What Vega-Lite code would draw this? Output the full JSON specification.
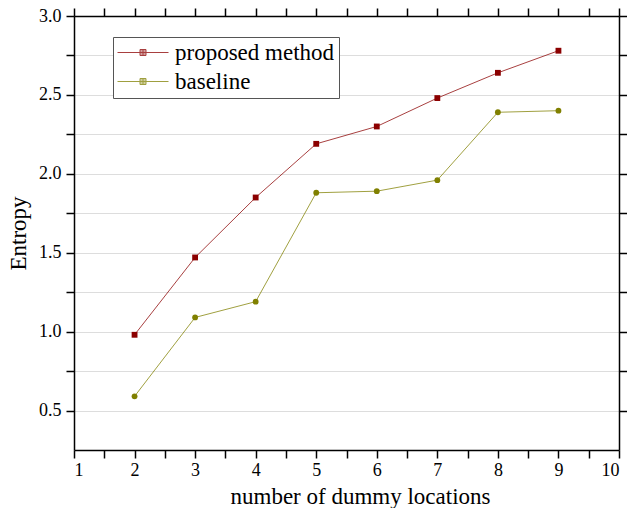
{
  "$schema": "https://vega.github.io/schema/vega-lite/v6.json",
  "width": 545,
  "height": 434,
  "autosize": {"type": "none"},
  "padding": {"left": 74, "top": 16, "right": 8, "bottom": 58},
  "background": "white",
  "config": {
    "font": "Liberation Serif",
    "view": {"stroke": null},
    "axis": {"labelFont": "Liberation Serif", "titleFont": "Liberation Serif", "labelColor": "#000", "titleColor": "#000", "titleFontWeight": "normal", "domainColor": "#000", "tickColor": "#000", "domainWidth": 1.5, "tickWidth": 1.5}
  },
  "data": {
    "values": [
      {"x": 2, "value": 0.98, "series": "proposed method"},
      {"x": 3, "value": 1.47, "series": "proposed method"},
      {"x": 4, "value": 1.85, "series": "proposed method"},
      {"x": 5, "value": 2.19, "series": "proposed method"},
      {"x": 6, "value": 2.30, "series": "proposed method"},
      {"x": 7, "value": 2.48, "series": "proposed method"},
      {"x": 8, "value": 2.64, "series": "proposed method"},
      {"x": 9, "value": 2.78, "series": "proposed method"},
      {"x": 2, "value": 0.59, "series": "baseline"},
      {"x": 3, "value": 1.09, "series": "baseline"},
      {"x": 4, "value": 1.19, "series": "baseline"},
      {"x": 5, "value": 1.88, "series": "baseline"},
      {"x": 6, "value": 1.89, "series": "baseline"},
      {"x": 7, "value": 1.96, "series": "baseline"},
      {"x": 8, "value": 2.39, "series": "baseline"},
      {"x": 9, "value": 2.40, "series": "baseline"}
    ]
  },
  "resolve": {"axis": {"x": "independent", "y": "independent"}},
  "layer": [
    {
      "mark": {"type": "line", "strokeWidth": 1, "opacity": 0.75},
      "encoding": {
        "x": {
          "field": "x", "type": "quantitative",
          "scale": {"domain": [1, 10], "nice": false, "zero": false},
          "axis": {
            "orient": "bottom",
            "values": [1, 1.5, 2, 2.5, 3, 3.5, 4, 4.5, 5, 5.5, 6, 6.5, 7, 7.5, 8, 8.5, 9, 9.5, 10],
            "labelExpr": "datum.value % 1 === 0 ? format(datum.value, 'd') : ''",
            "grid": false,
            "tickSize": 8,
            "labelFont": "Liberation Serif",
            "labelFontSize": 18,
            "labelPadding": 3,
            "title": "number of dummy locations",
            "titleFont": "Liberation Serif",
            "titleFontSize": 23,
            "titlePadding": 6,
            "titleX": 286,
            "encode": {
              "ticks": {"y2": {"condition": {"test": "datum.value % 1 === 0", "value": 8}, "value": 4}}
            }
          }
        },
        "y": {
          "field": "value", "type": "quantitative",
          "scale": {"domain": [0.25, 3.0], "nice": false, "zero": false},
          "axis": {
            "orient": "left",
            "values": [0.5, 0.75, 1.0, 1.25, 1.5, 1.75, 2.0, 2.25, 2.5, 2.75, 3.0],
            "labelExpr": "abs(datum.value * 2 - round(datum.value * 2)) < 0.001 ? format(datum.value, '.1f') : ''",
            "grid": true,
            "gridWidth": 1,
            "tickSize": 8,
            "labelFont": "Liberation Serif",
            "labelFontSize": 18,
            "labelPadding": 5,
            "title": "Entropy",
            "titleFont": "Liberation Serif",
            "titleFontSize": 23,
            "titlePadding": 8,
            "encode": {
              "ticks": {"x2": {"condition": {"test": "abs(datum.value * 2 - round(datum.value * 2)) < 0.001", "value": -8}, "value": -4}},
              "grid": {
                "stroke": {"condition": [{"test": "datum.value >= 2.99", "value": "transparent"}, {"test": "abs(datum.value * 2 - round(datum.value * 2)) < 0.001", "value": "#9a9a9a"}], "value": "#cccccc"},
                "strokeDash": {"condition": {"test": "abs(datum.value * 2 - round(datum.value * 2)) < 0.001", "value": [1, 0]}, "value": [2, 2]}
              }
            }
          }
        },
        "stroke": {
          "field": "series", "type": "nominal",
          "scale": {"domain": ["proposed method", "baseline"], "range": ["#8b0000", "#808000"]},
          "legend": {
            "orient": "none",
            "legendX": 39,
            "legendY": 21,
            "title": null,
            "strokeColor": "#555",
            "fillColor": "white",
            "padding": 4,
            "labelFont": "Liberation Serif",
            "labelFontSize": 23,
            "labelColor": "#000",
            "labelOffset": 35,
            "rowPadding": 5,
            "symbolSize": 100,
            "symbolStrokeWidth": 1,
            "symbolType": "M-2.2,0H8M2.3,-0.6H3.5M2.3,-0.3H3.5M2.3,0.3H3.5M2.3,0.6H3.5M2.3,-0.6V0.6M3.5,-0.6V0.6M2.9,-0.6V0.6"
          }
        }
      }
    },
    {
      "mark": {"type": "point", "filled": true, "opacity": 1, "size": 34},
      "encoding": {
        "x": {
          "field": "x", "type": "quantitative",
          "scale": {"domain": [1, 10], "nice": false, "zero": false},
          "axis": {
            "orient": "top",
            "values": [1, 1.5, 2, 2.5, 3, 3.5, 4, 4.5, 5, 5.5, 6, 6.5, 7, 7.5, 8, 8.5, 9, 9.5, 10],
            "labels": false,
            "grid": false,
            "title": null,
            "tickSize": 8,
            "encode": {"ticks": {"y2": {"condition": {"test": "datum.value % 1 === 0", "value": 8}, "value": 4}}}
          }
        },
        "y": {
          "field": "value", "type": "quantitative",
          "scale": {"domain": [0.25, 3.0], "nice": false, "zero": false},
          "axis": {
            "orient": "right",
            "values": [0.5, 0.75, 1.0, 1.25, 1.5, 1.75, 2.0, 2.25, 2.5, 2.75, 3.0],
            "labels": false,
            "grid": false,
            "title": null,
            "tickSize": 8,
            "encode": {"ticks": {"x2": {"condition": {"test": "abs(datum.value * 2 - round(datum.value * 2)) < 0.001", "value": -8}, "value": -4}}}
          }
        },
        "fill": {"condition": {"test": "datum.series === 'baseline'", "value": "#808000"}, "value": "#8b0000"},
        "shape": {"condition": {"test": "datum.series === 'baseline'", "value": "circle"}, "value": "square"}
      }
    }
  ]
}
